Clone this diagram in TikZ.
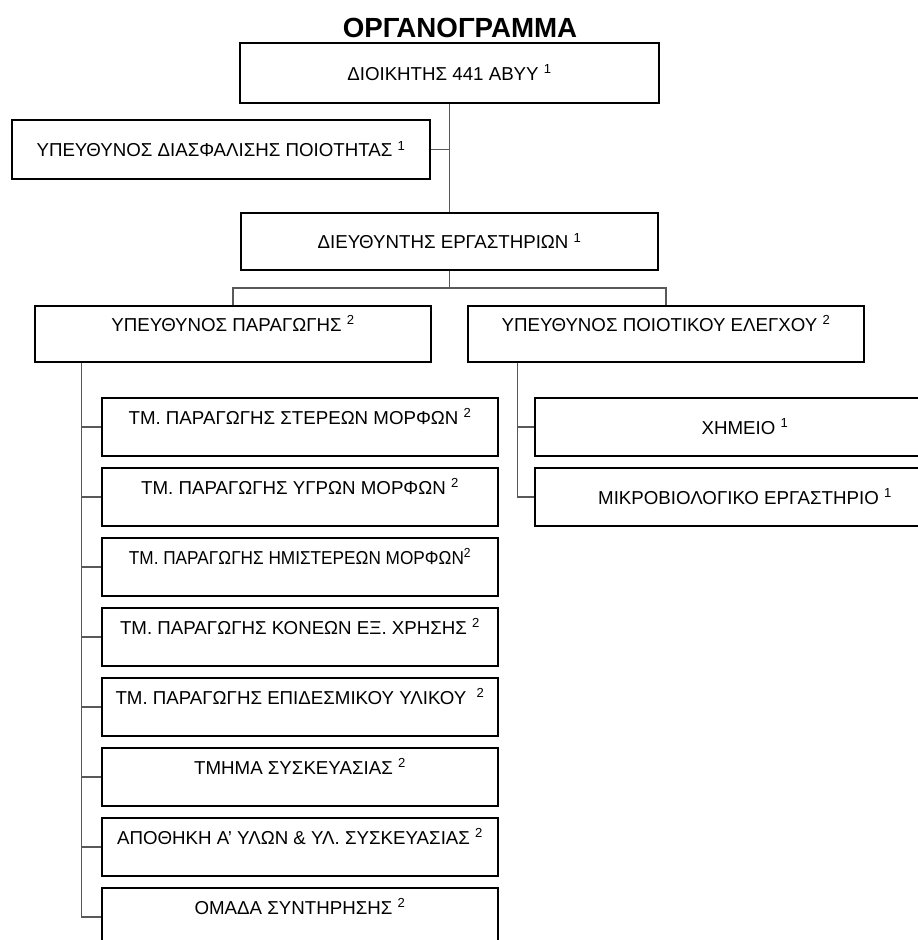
\documentclass[tikz,border=0pt]{standalone}
\usepackage{fontspec}
\setmainfont{Liberation Sans}
\usetikzlibrary{positioning}

\begin{document}
\begin{tikzpicture}[x=1pt,y=-1pt,node distance=70pt,
    unit/.style={draw,line width=1.2pt,inner sep=0pt,minimum width=396pt,minimum height=58pt,
        text height=14pt,text depth=0pt,font=\fontsize{18.7}{22}\selectfont},
    upper/.style={text depth=20pt},
    link/.style={line width=1.8pt,draw=black!65}]
    \useasboundingbox (0,0) rectangle (918,940);
    \fill[white] (0,0) rectangle (918,940);

    \node[font=\bfseries\fontsize{27.7}{30}\selectfont] (title) at (460,28) {ΟΡΓΑΝΟΓΡΑΜΜΑ};

    \node[unit,minimum width=419pt,minimum height=60pt] (dioik) at (449.5,73) {ΔΙΟΙΚΗΤΗΣ 441 ΑΒΥΥ \textsuperscript{1}};
    \node[unit,minimum width=418pt,minimum height=59pt] (qa) at (221,149.5) {ΥΠΕΥΘΥΝΟΣ ΔΙΑΣΦΑΛΙΣΗΣ ΠΟΙΟΤΗΤΑΣ \textsuperscript{1}};
    \node[unit,minimum width=417pt,minimum height=57pt] (dir) at (449.5,241.5) {ΔΙΕΥΘΥΝΤΗΣ ΕΡΓΑΣΤΗΡΙΩΝ \textsuperscript{1}};
    \node[unit,upper,minimum height=56pt] (prod) at (233,334) {ΥΠΕΥΘΥΝΟΣ ΠΑΡΑΓΩΓΗΣ \textsuperscript{2}};
    \node[unit,upper,minimum height=56pt] (qc) at (666,334) {ΥΠΕΥΘΥΝΟΣ ΠΟΙΟΤΙΚΟΥ ΕΛΕΓΧΟΥ \textsuperscript{2}};

    % production departments
    \node[unit,upper] (s1) at (300,427) {ΤΜ. ΠΑΡΑΓΩΓΗΣ ΣΤΕΡΕΩΝ ΜΟΡΦΩΝ \textsuperscript{2}};
    \node[unit,upper] (s2) [below of=s1] {ΤΜ. ΠΑΡΑΓΩΓΗΣ ΥΓΡΩΝ ΜΟΡΦΩΝ \textsuperscript{2}};
    \node[unit,upper] (s3) [below of=s2] {\scalebox{0.92}[1]{ΤΜ. ΠΑΡΑΓΩΓΗΣ ΗΜΙΣΤΕΡΕΩΝ ΜΟΡΦΩΝ\textsuperscript{2}}};
    \node[unit,upper] (s4) [below of=s3] {ΤΜ. ΠΑΡΑΓΩΓΗΣ ΚΟΝΕΩΝ ΕΞ. ΧΡΗΣΗΣ \textsuperscript{2}};
    \node[unit,upper] (s5) [below of=s4] {ΤΜ. ΠΑΡΑΓΩΓΗΣ ΕΠΙΔΕΣΜΙΚΟΥ ΥΛΙΚΟΥ \ \textsuperscript{2}};
    \node[unit,upper] (s6) [below of=s5] {ΤΜΗΜΑ ΣΥΣΚΕΥΑΣΙΑΣ \textsuperscript{2}};
    \node[unit,upper] (s7) [below of=s6] {ΑΠΟΘΗΚΗ Α' ΥΛΩΝ \& ΥΛ. ΣΥΣΚΕΥΑΣΙΑΣ \textsuperscript{2}};
    \node[unit,upper] (s8) [below of=s7] {ΟΜΑΔΑ ΣΥΝΤΗΡΗΣΗΣ \textsuperscript{2}};

    % quality control labs
    \node[unit,minimum width=420pt,text depth=-3pt] (chem) at (745,427) {ΧΗΜΕΙΟ \textsuperscript{1}};
    \node[unit,minimum width=420pt] (micro) [below of=chem] {ΜΙΚΡΟΒΙΟΛΟΓΙΚΟ ΕΡΓΑΣΤΗΡΙΟ \textsuperscript{1}};

    \coordinate (bus) at (449.5,288);
    \coordinate (ptrunk) at ([xshift=47pt]prod.south west);
    \coordinate (qtrunk) at ([xshift=50pt]qc.south west);

    \draw[link] (dioik) -- (dir);
    \draw[link] (qa.east) -- (qa.east -| dioik.south);
    \draw[link] (dir.south) -- (bus);
    \draw[link] (prod.north) |- (bus) -| (qc.north);
    \draw[link] (ptrunk) |- (s8.west);
    \foreach \n in {1,...,7}
        \draw[link] (s\n.west) -- (s\n.west -| ptrunk);
    \draw[link] (qtrunk) |- (micro.west);
    \draw[link] (chem.west) -- (chem.west -| qtrunk);
\end{tikzpicture}
\end{document}
